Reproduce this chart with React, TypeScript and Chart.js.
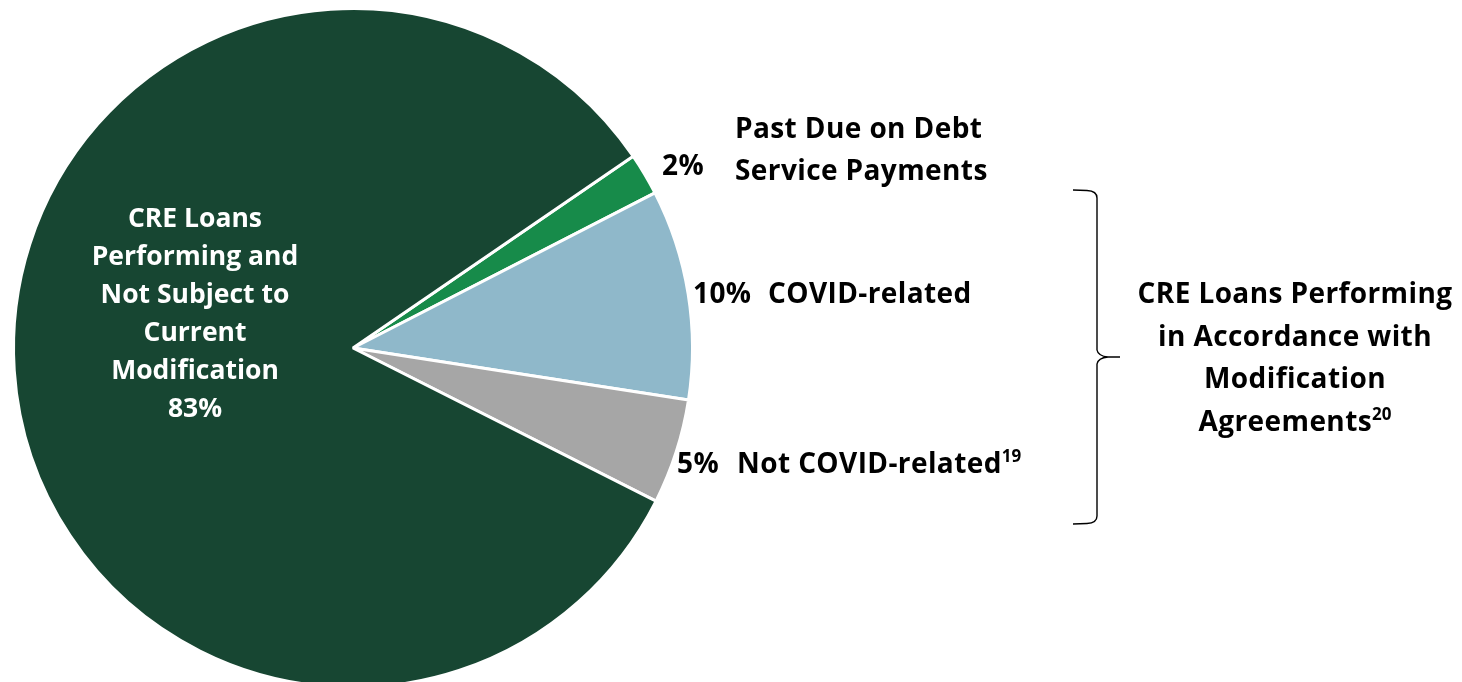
import React, { useEffect, useRef } from "react";
import { Chart, registerables } from "chart.js";

Chart.register(...registerables);

// ---- data ----
const categories = [
  "Past Due on Debt Service Payments",
  "COVID-related",
  "Not COVID-related",
  "CRE Loans Performing and Not Subject to Current Modification",
];
const values = [2, 10, 5, 83];
const percentLabels = ["2%", "10%", "5%", "83%"];
const colors = ["#178B4A", "#8FB8CA", "#A6A6A6", "#174632"];
const bigLabelLines = ["CRE Loans", "Performing and", "Not Subject to", "Current", "Modification"];
const pastDueLines = ["Past Due on Debt", "Service Payments"];
const bracketLines = ["CRE Loans Performing", "in Accordance with", "Modification", "Agreements"];
const footnotes = ["19", "20"];

const FONT = "'Open Sans', 'Noto Sans', sans-serif";

const labelsPlugin = {
  id: "customLabels",
  afterDraw(chart: any) {
    const ctx = chart.ctx as any;
    ctx.save();
    const font = (s: number) => `bold ${s}px ${FONT}`;
    const big = 26.5;
    const main = 28;
    const sup = 17;
    ctx.textBaseline = "alphabetic";

    // Big slice label (white, centered)
    ctx.fillStyle = "#ffffff";
    ctx.font = font(big);
    ctx.letterSpacing = "0px";
    ctx.textAlign = "center";
    const bigLines = [...bigLabelLines, percentLabels[3]];
    bigLines.forEach((t, i) => ctx.fillText(t, 195, 227 + 38 * i));

    ctx.fillStyle = "#000000";
    ctx.textAlign = "left";
    ctx.font = font(main);
    ctx.letterSpacing = "0.4px";
    // 2%
    ctx.fillText(percentLabels[0], 662, 175);
    pastDueLines.forEach((t, i) => ctx.fillText(t, 735, 138 + 42 * i));
    // 10%
    ctx.fillText(percentLabels[1], 693, 303);
    ctx.fillText(categories[1], 768, 303);
    // 5%
    ctx.fillText(percentLabels[2], 677, 473);
    ctx.fillText(categories[2], 737, 473);
    const w = ctx.measureText(categories[2]).width;
    ctx.font = font(sup);
    ctx.letterSpacing = "0px";
    ctx.fillText(footnotes[0], 737 + w, 462);

    // Right label
    ctx.textAlign = "center";
    bracketLines.forEach((t: string, i: number) => {
      const y = 303 + 42.5 * i;
      ctx.font = font(main);
      ctx.letterSpacing = "0.4px";
      if (i === bracketLines.length - 1) {
        const w1 = ctx.measureText(t).width;
        ctx.font = font(sup);
        ctx.letterSpacing = "0px";
        const w2 = ctx.measureText(footnotes[1]).width;
        const total = w1 + w2;
        const x0 = 1295 - total / 2;
        ctx.textAlign = "left";
        ctx.font = font(main);
        ctx.letterSpacing = "0.4px";
        ctx.fillText(t, x0, y);
        ctx.font = font(sup);
        ctx.letterSpacing = "0px";
        ctx.fillText(footnotes[1], x0 + w1, y - 11);
      } else {
        ctx.fillText(t, 1295, y);
      }
    });

    // Curly brace
    ctx.strokeStyle = "#000000";
    ctx.lineWidth = 1.4;
    ctx.beginPath();
    ctx.moveTo(1073, 190);
    ctx.lineTo(1087, 190.5);
    ctx.quadraticCurveTo(1097, 191, 1097, 198);
    ctx.lineTo(1097, 350);
    ctx.quadraticCurveTo(1098, 356, 1108, 357);
    ctx.lineTo(1120, 357);
    ctx.moveTo(1108, 357);
    ctx.quadraticCurveTo(1098, 358, 1097, 364);
    ctx.lineTo(1097, 516);
    ctx.quadraticCurveTo(1097, 523, 1087, 523.5);
    ctx.lineTo(1073, 524);
    ctx.stroke();

    ctx.restore();
  },
};

export default function App() {
  const ref = useRef<HTMLCanvasElement | null>(null);
  useEffect(() => {
    if (!ref.current) return;
    const chart = new Chart(ref.current, {
      type: "pie",
      data: {
        labels: categories,
        datasets: [
          {
            data: values,
            backgroundColor: colors,
            borderColor: "#ffffff",
            borderWidth: 3,
          },
        ],
      },
      options: {
        responsive: true,
        maintainAspectRatio: false,
        animation: false,
        rotation: 55.6,
        layout: { padding: { left: 12, top: 7, right: 768, bottom: 11 } },
        plugins: {
          legend: { display: false },
          tooltip: { enabled: false },
        },
      },
      plugins: [labelsPlugin],
    });
    return () => chart.destroy();
  }, []);
  return (
    <div style={{ position: "fixed", left: 0, top: 0, width: 1462, height: 682, overflow: "hidden", background: "#fff" }}>
      <div style={{ position: "relative", width: 1462, height: 700 }}>
        <canvas ref={ref} />
      </div>
    </div>
  );
}
